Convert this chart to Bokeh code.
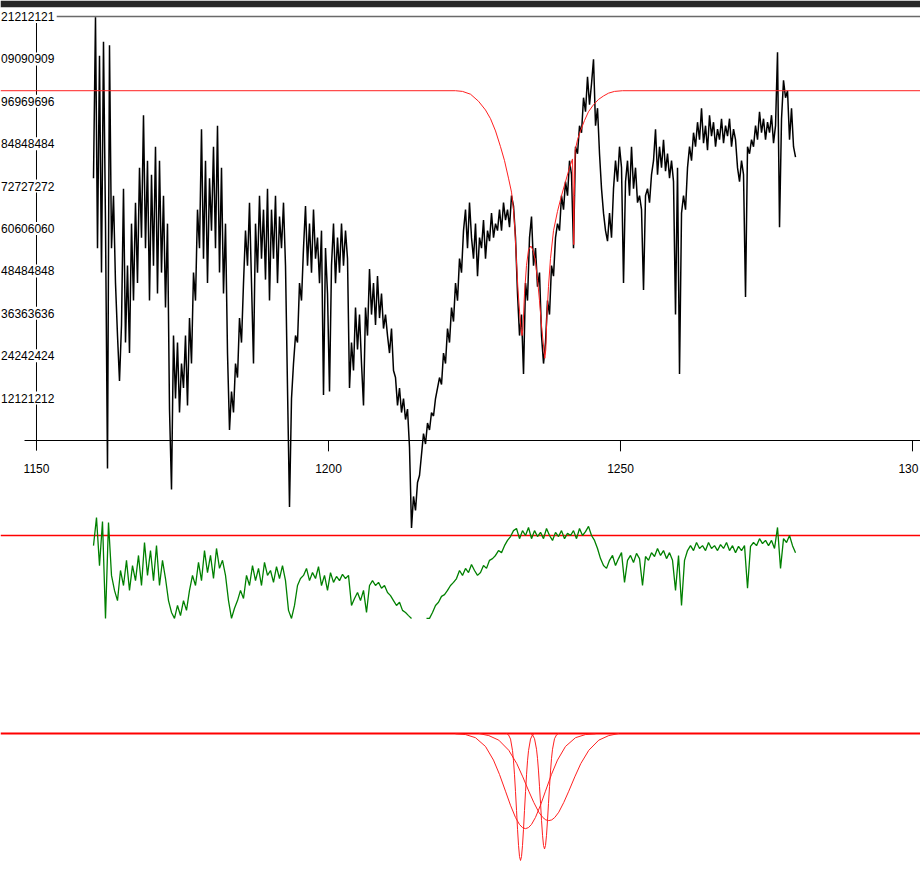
import numpy as np
from bokeh.plotting import figure
from bokeh.models import Range1d
from bokeh.core.properties import value
from bokeh.embed import file_html
from bokeh.resources import INLINE

# ---------------------------------------------------------------- data
# wavelength span of the observed spectrum (Angstrom)
WAVE_START, WAVE_END = 1159.76, 1279.97

# normalised flux, uniformly sampled between WAVE_START and WAVE_END
flux = [
    0.75, 1.21, 0.55, 1.10, 0.48, 1.14, 0.62, -0.08, 1.13, 0.55,
    0.70, 0.45, 0.30, 0.17, 0.33, 0.72, 0.28, 0.50, 0.25, 0.62, 0.40,
    0.68, 0.45, 0.78, 0.58, 0.93, 0.55, 0.80, 0.40, 0.76, 0.50, 0.84, 0.42, 0.80, 0.48, 0.70, 0.38, 0.62,
    0.09, -0.14, 0.30, 0.12, 0.28, 0.08, 0.22, 0.15, 0.30, 0.10,
    0.35, 0.22, 0.48, 0.40, 0.66, 0.55, 0.89, 0.52, 0.80, 0.45, 0.75, 0.60, 0.84, 0.55, 0.90, 0.48, 0.78, 0.42, 0.62,
    0.25, 0.03, 0.14, 0.08, 0.22, 0.18, 0.35, 0.28, 0.45,
    0.60, 0.50, 0.68, 0.45, 0.22, 0.62, 0.48, 0.70, 0.52, 0.66, 0.46, 0.72, 0.40, 0.66, 0.52, 0.70, 0.45, 0.64, 0.55, 0.68, 0.50,
    0.15, -0.19, 0.12, 0.22, 0.30, 0.28, 0.45, 0.40,
    0.55, 0.67, 0.50, 0.62, 0.48, 0.66, 0.52, 0.58, 0.45, 0.60, 0.13, 0.55, 0.42, 0.14, 0.50, 0.62, 0.45, 0.58, 0.48, 0.62, 0.50, 0.60, 0.52,
    0.15, 0.28, 0.20, 0.38, 0.26, 0.36, 0.22, 0.10,
    0.38, 0.30, 0.49, 0.36, 0.45, 0.33, 0.47, 0.35, 0.42, 0.32, 0.36,
    0.30, 0.25, 0.32, 0.20, 0.18, 0.10, 0.15, 0.08, 0.12, 0.06, 0.09,
    -0.02, -0.25, -0.16, -0.20, -0.12, -0.10, -0.04,
    0.02, -0.01, 0.05, 0.03, 0.08, 0.07, 0.12, 0.15, 0.18, 0.16, 0.25, 0.22, 0.32, 0.28, 0.38, 0.34, 0.45, 0.40, 0.52, 0.48,
    0.60, 0.66, 0.55, 0.68, 0.58, 0.52, 0.62, 0.47, 0.58, 0.55, 0.63, 0.52, 0.60, 0.57, 0.65, 0.58, 0.62, 0.60, 0.66, 0.60,
    0.68, 0.63, 0.66, 0.61, 0.70, 0.67,
    0.58, 0.42, 0.30, 0.36, 0.19, 0.45, 0.40, 0.58, 0.64, 0.50, 0.55, 0.44, 0.48, 0.30, 0.22, 0.28,
    0.40, 0.36, 0.50, 0.47, 0.58, 0.62, 0.60, 0.70, 0.66, 0.74, 0.70, 0.80, 0.76, 0.55,
    0.84, 0.82, 0.90, 0.88, 0.98, 0.94, 1.04, 0.96, 1.02, 1.09,
    0.90, 0.95, 0.82, 0.72, 0.65, 0.60, 0.57,
    0.65, 0.58, 0.72, 0.80, 0.74, 0.84, 0.78,
    0.45, 0.74, 0.80, 0.70, 0.84, 0.72, 0.78, 0.68, 0.70, 0.66, 0.43, 0.70, 0.72, 0.68, 0.76,
    0.80, 0.89, 0.76, 0.84, 0.78, 0.86, 0.77, 0.82, 0.75, 0.80, 0.74,
    0.36, 0.78, 0.19, 0.65, 0.70, 0.66, 0.78, 0.84, 0.80,
    0.88, 0.84, 0.91, 0.86, 0.95, 0.85, 0.90, 0.83, 0.93, 0.87, 0.91, 0.84, 0.89, 0.86, 0.92, 0.85,
    0.90, 0.87, 0.92, 0.84, 0.89, 0.86,
    0.78, 0.74, 0.80, 0.76, 0.41,
    0.84, 0.82, 0.86, 0.84, 0.90, 0.86, 0.94, 0.88, 0.92, 0.86, 0.91, 0.88, 0.93,
    0.85, 0.90, 1.11, 0.61, 0.92, 1.03, 0.98, 1.00, 0.86, 0.95, 0.84, 0.81,
]

# second panel trace (same wavelength span, coarser sampling; gaps are NaN)
nan = float("nan")
flux2 = [
    0.971, 1.051, 0.914, 1.040, 0.763, 1.037, 0.886, 0.843, 0.814, 0.900,
    0.857, 0.929, 0.843, 0.914, 0.871, 0.943, 0.857, 0.980, 0.886, 0.957,
    0.871, 0.971, 0.857, 0.929, 0.877, 0.814, 0.780, 0.763, 0.800, 0.771,
    0.814, 0.786, 0.843, 0.886, 0.857, 0.923, 0.871, 0.957, 0.894, 0.943,
    0.877, 0.963, 0.906, 0.929, 0.886, 0.814, 0.763, 0.792, 0.814, 0.843,
    0.820, 0.886, 0.857, 0.914, 0.871, 0.906, 0.857, 0.923, 0.886, 0.900,
    0.866, 0.911, 0.877, 0.914, 0.871, 0.786, 0.763, 0.800, 0.857, 0.877,
    0.886, 0.906, 0.871, 0.894, 0.877, 0.911, 0.857, 0.886, 0.843, 0.894,
    0.866, 0.883, 0.871, 0.889, 0.877, 0.886, 0.800, 0.820, 0.837, 0.814,
    0.843, 0.780, 0.857, 0.871, 0.857, 0.866, 0.849, 0.857, 0.837, 0.828,
    0.814, 0.800, 0.809, 0.786, 0.780, 0.771, 0.763, nan, nan, nan,
    nan, 0.763, 0.763, 0.780, 0.800, 0.809, 0.826, 0.831, 0.843, 0.857,
    0.866, 0.877, 0.900, 0.886, 0.906, 0.894, 0.917, 0.900, 0.886, 0.894,
    0.914, 0.906, 0.929, 0.934, 0.943, 0.957, 0.951, 0.971, 0.986, 0.997,
    1.014, 1.020, 0.991, 1.014, 1.000, 1.023, 0.991, 1.014, 0.997, 1.009,
    0.991, 1.020, 1.000, 0.986, 1.009, 0.997, 1.014, 0.991, 1.006, 1.000,
    1.014, 0.991, 1.020, 1.000, 1.011, 1.026, 1.000, 0.986, 0.963, 0.934,
    0.914, 0.906, 0.929, 0.943, 0.914, 0.934, 0.951, 0.866, 0.929, 0.943,
    0.923, 0.949, 0.934, 0.857, 0.940, 0.929, 0.951, 0.940, 0.963, 0.943,
    0.957, 0.934, 0.951, 0.929, 0.843, 0.943, 0.800, 0.929, 0.957, 0.971,
    0.957, 0.980, 0.963, 0.971, 0.957, 0.980, 0.963, 0.971, 0.957, 0.974,
    0.963, 0.980, 0.957, 0.971, 0.951, 0.969, 0.957, 0.971, 0.849, 0.969,
    0.980, 0.971, 0.991, 0.977, 0.986, 0.971, 0.986, 0.963, 1.023, 0.906,
    0.991, 0.980, 1.000, 0.971, 0.951,
]

# fitted model: wavelength / normalised flux
model_wave = [
    1143.84, 1221.75, 1222.95, 1224.32, 1225.68, 1226.88, 1227.74, 1228.60,
    1229.45, 1230.14, 1230.82, 1231.34, 1231.68, 1231.93, 1232.19, 1232.45,
    1232.71, 1232.96, 1233.13, 1233.30, 1233.56, 1233.90, 1234.25, 1234.67,
    1235.10, 1235.45, 1235.79, 1236.13, 1236.47, 1236.82, 1237.04, 1237.21,
    1237.38, 1237.67, 1238.01, 1238.53, 1239.21, 1239.90, 1240.58, 1241.27,
    1241.78, 1241.92, 1242.00, 1242.09, 1242.24, 1242.64, 1243.15, 1243.84,
    1244.52, 1245.38, 1246.23, 1247.09, 1247.95, 1248.97, 1250.34, 1301.37,
]
model_flux = [
    1.000, 1.000, 0.998, 0.990, 0.970, 0.945, 0.920, 0.885,
    0.840, 0.800, 0.750, 0.710, 0.660, 0.600, 0.510, 0.430,
    0.370, 0.320, 0.300, 0.320, 0.420, 0.500, 0.545, 0.556,
    0.540, 0.510, 0.460, 0.400, 0.330, 0.270, 0.235, 0.260,
    0.350, 0.440, 0.520, 0.600, 0.655, 0.700, 0.740, 0.780,
    0.805, 0.700, 0.560, 0.700, 0.830, 0.860, 0.885, 0.915,
    0.940, 0.960, 0.975, 0.985, 0.993, 0.998, 1.000, 1.000,
]

# individual absorption components: line centres and profiles
comp_centre = {"broad1": 1233.73, "broad2": 1237.72, "narrow1": 1232.88, "narrow2": 1236.99}
broad_dw = [-11.99, -10.27, -8.56, -6.85, -5.48, -4.45, -3.42, -2.57, -1.71, -1.03, -0.51, 0.0,
            0.51, 1.03, 1.71, 2.57, 3.42, 4.45, 5.48, 6.85, 8.56, 10.27, 11.99]
narrow_dw = [-2.40, -2.05, -1.71, -1.37, -1.20, -1.03, -0.86, -0.68, -0.51, -0.34, -0.17, 0.0,
             0.17, 0.34, 0.51, 0.68, 0.86, 1.03, 1.20, 1.37, 1.71, 2.05, 2.40]
broad1 = [0.999, 0.997, 0.988, 0.963, 0.924, 0.883, 0.835, 0.795, 0.760, 0.740, 0.731, 0.728,
          0.731, 0.740, 0.760, 0.795, 0.835, 0.883, 0.924, 0.963, 0.988, 0.997, 0.999]
broad2 = [1.000, 0.994, 0.981, 0.952, 0.914, 0.876, 0.835, 0.803, 0.775, 0.760, 0.753, 0.751,
          0.753, 0.760, 0.775, 0.803, 0.835, 0.876, 0.914, 0.952, 0.981, 0.994, 1.000]
narrow1 = [1.000, 0.996, 0.984, 0.951, 0.922, 0.882, 0.834, 0.780, 0.726, 0.680, 0.648, 0.637,
           0.648, 0.680, 0.726, 0.780, 0.834, 0.882, 0.922, 0.951, 0.984, 0.996, 1.000]
narrow2 = [1.000, 0.996, 0.985, 0.955, 0.929, 0.893, 0.849, 0.800, 0.751, 0.709, 0.680, 0.670,
           0.680, 0.709, 0.751, 0.800, 0.849, 0.893, 0.929, 0.955, 0.985, 0.996, 1.000]

# axis ticks; the labels are the digits left visible inside the narrow margin
x_ticks = [1150, 1200, 1250, 1300]
x_tick_labels = ["1150", "1200", "1250", "130"]
y_ticks = [k * 4 / 33 for k in range(1, 11)]
y_tick_labels = ["12121212", "24242424", "36363636", "48484848", "60606060",
                 "72727272", "84848484", "96969696", "09090909", "21212121"]

# ---------------------------------------------------------------- layout
X0, X1 = 1143.836, 1301.370
FONT = value("Liberation Sans")
FSIZE = value("12px")

p = figure(width=920, height=881, title=None,
           x_range=Range1d(X0, X1), y_range=Range1d(-1.2607, 1.2379),
           x_axis_type=None, y_axis_type=None,
           output_backend="svg", toolbar_location=None,
           min_border_left=0, min_border_right=0, min_border_bottom=0, min_border_top=7,
           border_fill_color="#272727", background_fill_color="white",
           outline_line_color=None)
p.grid.visible = False
p.extra_y_ranges = {"mid": Range1d(0.0109, 2.5094), "comp": Range1d(0.5769, 3.0755)}

wave = np.linspace(WAVE_START, WAVE_END, len(flux))
wave2 = np.linspace(WAVE_START, WAVE_END, len(flux2))

# --- top panel frame: axis lines and ticks
y_top = y_ticks[-1]
tick_len = 0.031
p.segment(x0=[1150 - 2.05], y0=[0], x1=[X1], y1=[0], line_color="black", line_width=1)
p.segment(x0=[x_ticks[0]], y0=[y_top], x1=[x_ticks[0]], y1=[-0.029], line_color="black", line_width=1)
p.segment(x0=x_ticks[1:], y0=[0] * 3, x1=x_ticks[1:], y1=[-tick_len] * 3, line_color="black", line_width=1)
p.segment(x0=[1153.42], y0=[y_top], x1=[X1], y1=[y_top], line_color="#6a6a6a", line_width=1.5)

# --- spectrum and model
p.line(wave, flux, line_color="black", line_width=1.5)
p.line(model_wave, model_flux, line_color="#ff2020", line_width=1)

# --- tick labels (white box hides the vertical axis line behind them)
p.text(x=[1153.42] * len(y_ticks), y=y_ticks, text=y_tick_labels,
       text_align="right", text_baseline="middle", text_font=FONT, text_font_size=FSIZE,
       text_color="black", background_fill_color="white", padding=2)
p.text(x=[1150, 1200, 1250, 1299.3], y=[-0.0786] * 4, text=x_tick_labels,
       text_align="center", text_baseline="middle", text_font=FONT, text_font_size=FSIZE,
       text_color="black")

# --- middle panel
p.line([X0, X1], [1.0, 1.0], y_range_name="mid", line_color="#ff0000", line_width=1.4)
p.line(wave2, flux2, y_range_name="mid", line_color="#008000", line_width=1.3)

# --- component panel
p.line([X0, X1], [1.0, 1.0], y_range_name="comp", line_color="#ff0000", line_width=2)
for name, prof, dws in [("broad1", broad1, broad_dw), ("broad2", broad2, broad_dw),
                        ("narrow1", narrow1, narrow_dw), ("narrow2", narrow2, narrow_dw)]:
    cw = [comp_centre[name] + d for d in dws]
    p.line(cw, prof, y_range_name="comp", line_color="#ff2020", line_width=1)

open("out.html", "w").write(file_html(p, INLINE))
